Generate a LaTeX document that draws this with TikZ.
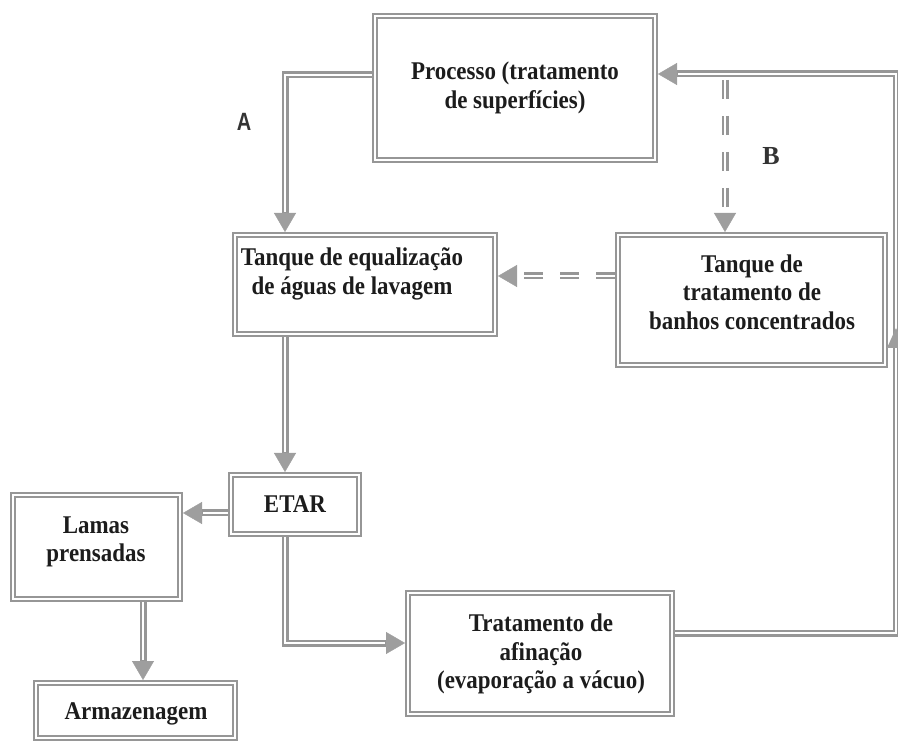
\documentclass[tikz,border=0pt]{standalone}
\usepackage{fontspec}
\setmainfont{Liberation Serif}
\setsansfont{Liberation Sans}
\newfontfamily\boxfont{Liberation Serif}[FakeStretch=0.9]
\newfontfamily\tagsans{Liberation Sans}[FakeStretch=0.8]
\newfontfamily\tagserif{Liberation Serif}
\usetikzlibrary{arrows.meta}
\pgfdeclarelayer{background}
\pgfsetlayers{background,main}

\definecolor{lineGray}{RGB}{150,150,150}
\definecolor{tipGray}{RGB}{158,158,158}
\definecolor{inkDark}{RGB}{28,28,28}

\tikzset{
  x=1pt, y=-1pt,
  box/.style={draw=lineGray, line width=1.8pt, double=white, double distance=2.6pt,
    fill=white, rectangle, inner sep=0pt, outer sep=3pt},
  boxtext/.style={align=center, text=inkDark, inner sep=0pt,
    font=\boxfont\fontsize{25.5}{28.5}\selectfont\bfseries},
  flow/.style={draw=lineGray, line width=7pt, line join=miter,
    -{Triangle[width=22pt,length=19pt,line width=0.4pt,color=tipGray]},
    postaction={draw=white, line width=2.8pt, solid, -, shorten >=20pt}},
  flowdash/.style={flow, dash pattern=on 19pt off 17pt},
  letter/.style={text=inkDark!90, inner sep=0pt}
}

\begin{document}
\begin{tikzpicture}
\useasboundingbox (0,0) rectangle (898,743);

% process boxes
\node[box, minimum width=280pt, minimum height=144pt] (proc)  at (515,88) {};
\node[box, minimum width=260pt, minimum height=99pt]  (eq)    at (365,284.5) {};
\node[box, minimum width=267pt, minimum height=130pt] (trat)  at (751.5,300) {};
\node[box, minimum width=128pt, minimum height=59pt]  (etar)  at (295,504.5) {};
\node[box, minimum width=167pt, minimum height=104pt] (lamas) at (96.5,547) {};
\node[box, minimum width=199pt, minimum height=55pt]  (arm)   at (135.5,710.5) {};
\node[box, minimum width=264pt, minimum height=121pt] (afin)  at (540,653.5) {};

% box captions
\node[boxtext] (procT)  at (515,88)  {Processo (tratamento\\de superfícies)};
\node[boxtext] (eqT)    at (352,274) {Tanque de equalização\\de águas de lavagem};
\node[boxtext] (tratT)  at (752,292) {Tanque de\\tratamento de\\banhos concentrados};
\node[boxtext] (etarT)  at (295,504) {ETAR};
\node[boxtext] (lamasT) at (96,542)  {Lamas\\prensadas};
\node[boxtext] (armT)   at (136,714) {Armazenagem};
\node[boxtext] (afinT)  at (541,654) {Tratamento de\\afinação\\(evaporação a vácuo)};

% stream labels
\node[letter, font=\tagsans\fontsize{25}{26}\selectfont\bfseries] (labA) at (244,122) {A};
\node[letter, font=\tagserif\fontsize{26}{27}\selectfont\bfseries] (labB) at (771,156) {B};

% bends and branch points of the flow lines
\coordinate (aTurn) at (285,75);
\coordinate (sl) at (0,513);
\coordinate (sa) at (143,0);
\coordinate (eb) at (285,643);
\coordinate (rb) at (896,633);
\coordinate (rt) at (896,74);
\coordinate (bs) at (725,80);
\coordinate (te) at (0,276);

\begin{pgfonlayer}{background}
  % rinse water stream A
  \draw[flow] (proc.west |- aTurn) -- (aTurn) -- (aTurn |- eq.north);
  \draw[flow] (aTurn |- eq.south) -- (aTurn |- etar.north);
  \draw[flow] (etar.west |- sl) -- (lamas.east |- sl);
  \draw[flow] (sa |- lamas.south) -- (sa |- arm.north);
  \draw[flow] (eb |- etar.south) -- (eb) -- (eb -| afin.west);
  % recycle loop back to the process
  \draw[flow] (afin.east |- rb) -- (rb) -- (rt) -- (rt -| proc.east);
  % concentrated baths stream B
  \draw[flowdash] (bs) -- (bs |- trat.north);
  \draw[flowdash] (trat.west |- te) -- (eq.east |- te);
\end{pgfonlayer}

% upward tip on the loop line
\fill[tipGray] (887,348) -- (905,348) -- (896,328) -- cycle;
\end{tikzpicture}
\end{document}
